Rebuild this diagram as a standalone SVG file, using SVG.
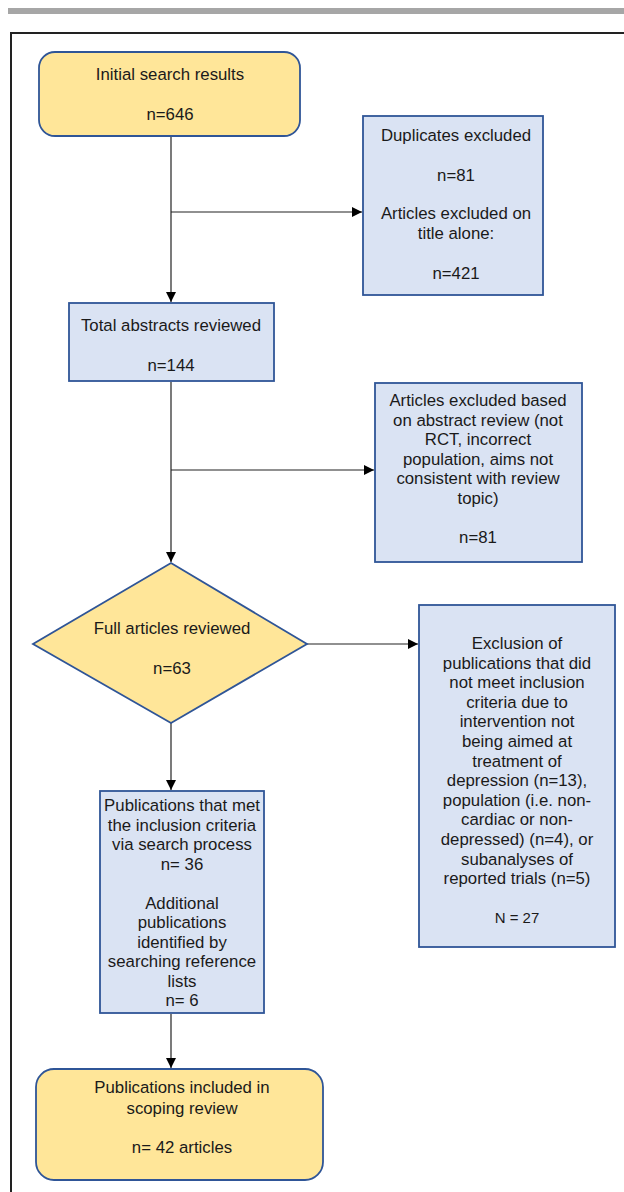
<svg xmlns="http://www.w3.org/2000/svg" width="624" height="1192" viewBox="0 0 624 1192">
<defs>
<style>
.y{fill:#ffe699;stroke:#2f5597;stroke-width:1.8}
.b{fill:#dae3f3;stroke:#2f5597;stroke-width:1.8}
text{font-family:"Liberation Sans",Arial,sans-serif;font-size:16.8px;fill:#1a1a1a;text-anchor:middle}
.c line{stroke:#222;stroke-width:1.2}
</style>
<marker id="ah" markerWidth="10" markerHeight="10" refX="10" refY="5" orient="auto" markerUnits="userSpaceOnUse">
<path d="M0,0 L10,5 L0,10 Z" fill="#000"/>
</marker>
</defs>
<rect width="624" height="1192" fill="#fff"/>
<rect x="8" y="8" width="616" height="6" fill="#a6a6a6"/>
<path d="M11,1192 V33 H624" fill="none" stroke="#222" stroke-width="2"/>

<g class="c" id="connectors">
<line x1="171" y1="137" x2="171" y2="302" marker-end="url(#ah)"/>
<line x1="171" y1="212" x2="362" y2="212" marker-end="url(#ah)"/>
<line x1="171" y1="382" x2="171" y2="562" marker-end="url(#ah)"/>
<line x1="171" y1="470" x2="374" y2="470" marker-end="url(#ah)"/>
<line x1="307" y1="644" x2="418" y2="644" marker-end="url(#ah)"/>
<line x1="171" y1="723" x2="171" y2="790" marker-end="url(#ah)"/>
<line x1="171" y1="1014" x2="171" y2="1068" marker-end="url(#ah)"/>
</g>

<g id="initial">
<rect class="y" x="39" y="52" width="261" height="84" rx="16"/>
<text x="170" y="80">Initial search results</text>
<text x="170" y="120">n=646</text>
</g>

<g id="duplicates">
<rect class="b" x="363" y="116" width="180" height="179"/>
<text x="456" y="141">Duplicates excluded</text>
<text x="456" y="181">n=81</text>
<text x="456" y="219">Articles excluded on</text>
<text x="456" y="239">title alone:</text>
<text x="456" y="279">n=421</text>
</g>

<g id="abstracts">
<rect class="b" x="69" y="303" width="205" height="78"/>
<text x="171" y="331">Total abstracts reviewed</text>
<text x="171" y="371">n=144</text>
</g>

<g id="abstract-exclusion">
<rect class="b" x="375" y="383" width="207" height="179"/>
<text x="478" y="406">Articles excluded based</text>
<text x="478" y="425.5">on abstract review (not</text>
<text x="478" y="445">RCT, incorrect</text>
<text x="478" y="464.5">population, aims not</text>
<text x="478" y="484">consistent with review</text>
<text x="478" y="503.5">topic)</text>
<text x="478" y="543">n=81</text>
</g>

<g id="full-articles">
<polygon class="y" points="171,563 307,644 171,723 33,644"/>
<text x="172" y="634">Full articles reviewed</text>
<text x="172" y="674">n=63</text>
</g>

<g id="full-exclusion">
<rect class="b" x="419" y="605" width="196" height="342"/>
<text x="517" y="649">Exclusion of</text>
<text x="517" y="668.6">publications that did</text>
<text x="517" y="688.2">not meet inclusion</text>
<text x="517" y="707.8">criteria due to</text>
<text x="517" y="727.4">intervention not</text>
<text x="517" y="747">being aimed at</text>
<text x="517" y="766.6">treatment of</text>
<text x="517" y="786.2">depression (n=13),</text>
<text x="517" y="805.8">population (i.e. non-</text>
<text x="517" y="825.4">cardiac or non-</text>
<text x="517" y="845">depressed) (n=4), or</text>
<text x="517" y="864.6">subanalyses of</text>
<text x="517" y="884.2">reported trials (n=5)</text>
<text x="517" y="922.5" style="font-size:15px">N = 27</text>
</g>

<g id="publications">
<rect class="b" x="100" y="791" width="164" height="222"/>
<text x="182" y="811">Publications that met</text>
<text x="182" y="830.5">the inclusion criteria</text>
<text x="182" y="850">via search process</text>
<text x="182" y="869.5">n= 36</text>
<text x="182" y="908.5">Additional</text>
<text x="182" y="928">publications</text>
<text x="182" y="947.5">identified by</text>
<text x="182" y="967">searching reference</text>
<text x="182" y="986.5">lists</text>
<text x="182" y="1006">n= 6</text>
</g>

<g id="included">
<rect class="y" x="36" y="1069" width="287" height="111" rx="18"/>
<text x="182" y="1093">Publications included in</text>
<text x="182" y="1114">scoping review</text>
<text x="182" y="1153">n= 42 articles</text>
</g>
</svg>
